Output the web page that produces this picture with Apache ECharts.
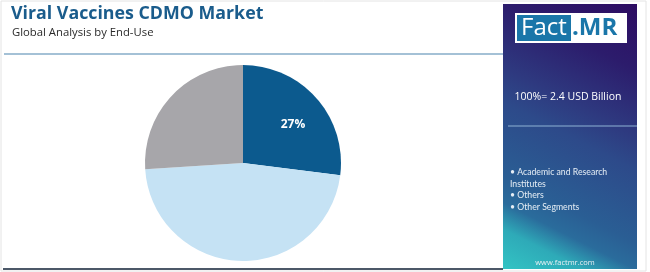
<!DOCTYPE html>
<html><head><meta charset="utf-8">
<script src="https://cdn.jsdelivr.net/npm/echarts@6/dist/echarts.min.js"></script>
<style>html,body{margin:0;padding:0;background:#fff}#c{width:650px;height:272px}</style>
</head><body><div id="c"></div>
<script>
const titleText = 'Viral Vaccines CDMO Market';
const subtitleText = 'Global Analysis by End-Use';
const categories = ['Academic and Research Institutes', 'Others', 'Other Segments'];
const values = [27, 47, 26];
const shownLabels = [true, false, false];
const colors = ['#0c5a8e', '#c5e2f4', '#a7a6aa'];
const totalText = '100%= 2.4 USD Billion';
const siteText = 'www.factmr.com';

const chart = echarts.init(document.getElementById('c'), null, {renderer: 'canvas'});
const legendLines = [];
categories.forEach((c) => { legendLines.push('• ' + c); });

const option = {
  animation: false,
  backgroundColor: '#ffffff',
  graphic: [
    {type: 'rect', shape: {x: 1, y: 1, width: 645, height: 270}, style: {fill: 'none', stroke: '#e4e4e4', lineWidth: 1}, silent: true},
    {type: 'text', left: 11, top: 5, style: {text: titleText, fill: '#1a5c8c', font: 'bold 17.8px "Open Sans", sans-serif'}},
    {type: 'text', left: 12, top: 27, style: {text: subtitleText, fill: '#2a2a2a', font: '11.3px "Open Sans", sans-serif'}},
    {type: 'line', shape: {x1: 4, y1: 54, x2: 503, y2: 54}, style: {stroke: '#86adc9', lineWidth: 1.5}},
    {type: 'line', shape: {x1: 3, y1: 269, x2: 503, y2: 269}, style: {stroke: '#4c5868', lineWidth: 2}},
    {type: 'rect', shape: {x: 503, y: 4, width: 134, height: 265},
      style: {fill: new echarts.graphic.LinearGradient(1, 0, 0, 1, [
        {offset: 0, color: '#2d0c62'},
        {offset: 0.2, color: '#2c1c6c'},
        {offset: 0.4, color: '#2e3a80'},
        {offset: 0.5, color: '#2d4a8a'},
        {offset: 0.72, color: '#2a5e94'},
        {offset: 0.8, color: '#2a6c9c'},
        {offset: 0.88, color: '#2eaab8'},
        {offset: 1, color: '#33c4c4'}
      ])}},
    {type: 'rect', shape: {x: 515, y: 13, width: 112, height: 30}, style: {fill: '#ffffff'}},
    {type: 'rect', shape: {x: 517, y: 15, width: 54, height: 26}, style: {fill: '#1a76a9'}},
    {type: 'text', x: 521, y: 28, style: {text: 'Fact', fill: '#ffffff', font: '24px "Open Sans", sans-serif', textVerticalAlign: 'middle'}},
    {type: 'text', x: 572, y: 28, style: {text: '.MR', fill: '#1a76a9', font: 'bold 24px "Open Sans", sans-serif', textVerticalAlign: 'middle'}},
    {type: 'text', x: 568, y: 97, style: {text: totalText, fill: '#ffffff', font: '10.5px "Open Sans", sans-serif', textAlign: 'center', textVerticalAlign: 'middle'}},
    {type: 'line', shape: {x1: 508, y1: 126, x2: 637, y2: 126}, style: {stroke: '#8db1d4', lineWidth: 1.2}},
    {type: 'text', x: 510, y: 166, style: {text: legendLines.join('\n'), width: 112, overflow: 'break', lineHeight: 11.8, fill: '#e6eef5', font: '8.7px Lato, sans-serif'}},
    {type: 'text', x: 565, y: 263, style: {text: siteText, fill: '#e8f0f4', font: '7.5px "Open Sans", sans-serif', textAlign: 'center', textVerticalAlign: 'middle'}}
  ],
  series: [{
    type: 'pie',
    center: [243, 163],
    radius: [0, 98],
    startAngle: 90,
    clockwise: true,
    silent: true,
    itemStyle: {borderWidth: 0},
    label: {show: false},
    labelLine: {show: false},
    data: categories.map((c, i) => ({
      name: c, value: values[i],
      itemStyle: {color: colors[i]},
      label: {show: shownLabels[i], position: 'inside', formatter: '{c}%', color: '#ffffff', fontWeight: 'bold', fontSize: 12, fontFamily: 'Open Sans', offset: [11, -4]}
    }))
  }]
};
chart.setOption(option);
</script></body></html>
